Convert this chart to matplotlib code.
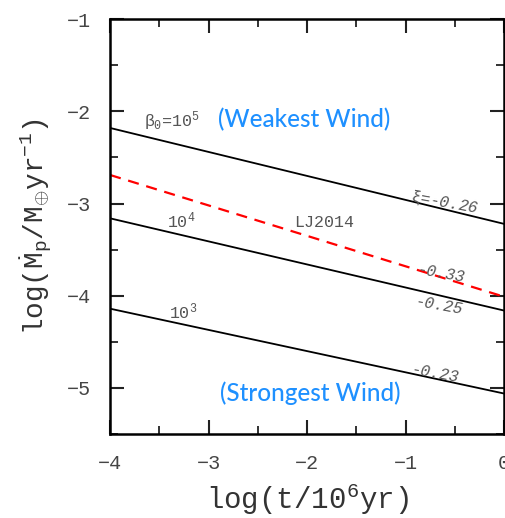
import numpy as np
import matplotlib
matplotlib.use('Agg')
import matplotlib.pyplot as plt
from matplotlib.ticker import MultipleLocator

# ── data ──
t_ends      = [-4.0, 0.0]            # log(t/1e6 yr) end points
mdot_b5     = [-2.18, -3.22]         # beta0 = 1e5, xi = -0.26
mdot_b4     = [-3.16, -4.16]         # beta0 = 1e4, xi = -0.25
mdot_b3     = [-4.14, -5.06]         # beta0 = 1e3, xi = -0.23
mdot_lj2014 = [-2.69, -4.01]         # LJ2014, xi = -0.33

plt.rcParams['font.family'] = ['Liberation Mono', 'DejaVu Sans']
plt.rcParams['mathtext.fontset'] = 'custom'
plt.rcParams['mathtext.rm'] = 'Liberation Mono'
plt.rcParams['mathtext.it'] = 'Liberation Mono'

fig = plt.figure(figsize=(5.05, 5.18), dpi=100)
ax = fig.add_axes([0.218, 0.162, 0.780, 0.801])

ax.plot(t_ends, mdot_b5, color='black', lw=1.3)
ax.plot(t_ends, mdot_b4, color='black', lw=1.3)
ax.plot(t_ends, mdot_b3, color='black', lw=1.3)
ax.plot(t_ends, mdot_lj2014, color='red', lw=1.6, ls=(0, (5, 3.5)))

ax.set_xlim(-4, 0)
ax.set_ylim(-5.5, -1)
ax.xaxis.set_major_locator(MultipleLocator(1))
ax.xaxis.set_minor_locator(MultipleLocator(0.5))
ax.yaxis.set_major_locator(MultipleLocator(1))
ax.yaxis.set_minor_locator(MultipleLocator(0.5))
ax.tick_params(which='both', direction='in', top=True, right=True,
               colors='#222222', labelcolor='#444444')
ax.tick_params(which='major', length=10, width=1.5, labelsize=14.5, pad=14)
ax.tick_params(which='minor', length=6, width=1.3)
for sp in ax.spines.values():
    sp.set_linewidth(1.8)

ax.set_xlabel(r'log(t/10$^{6}$yr)', fontsize=21, color='#333333', labelpad=7)
ax.set_ylabel(r'log($\dot{\rm M}_{\rm p}$/M$_{\oplus}$yr$^{-1}$)',
              fontsize=20, color='#333333', labelpad=9)

gray = '#555555'
ax.text(-3.66, -2.11, r'$\beta_0$=10$^5$', fontsize=12, color=gray, ha='left', va='center')
ax.text(-3.28, -3.19, r'10$^4$', fontsize=12, color=gray, ha='center', va='center')
ax.text(-3.26, -4.17, r'10$^3$', fontsize=12, color=gray, ha='center', va='center')
ax.text(-1.83, -3.21, 'LJ2014', fontsize=12, color=gray, ha='center', va='center')
ax.text(-0.60, -2.99, r'$\xi$=-0.26', fontsize=11.5, color=gray, ha='center', va='center',
        rotation=-10, fontstyle='italic')
ax.text(-0.64, -3.76, '-0.33', fontsize=11.5, color=gray, ha='center', va='center',
        rotation=-10, fontstyle='italic')
ax.text(-0.66, -4.11, '-0.25', fontsize=11.5, color=gray, ha='center', va='center',
        rotation=-10, fontstyle='italic')
ax.text(-0.70, -4.85, '-0.23', fontsize=11.5, color=gray, ha='center', va='center',
        rotation=-10, fontstyle='italic')

blue = '#1e90ff'
ax.text(-2.03, -2.09, '(Weakest Wind)', fontsize=17.5, color=blue, ha='center', va='center',
        family=['Lato', 'DejaVu Sans'], fontweight='medium')
ax.text(-1.97, -5.06, '(Strongest Wind)', fontsize=17.5, color=blue, ha='center', va='center',
        family=['Lato', 'DejaVu Sans'], fontweight='medium')

fig.savefig('out.png', dpi=100)
